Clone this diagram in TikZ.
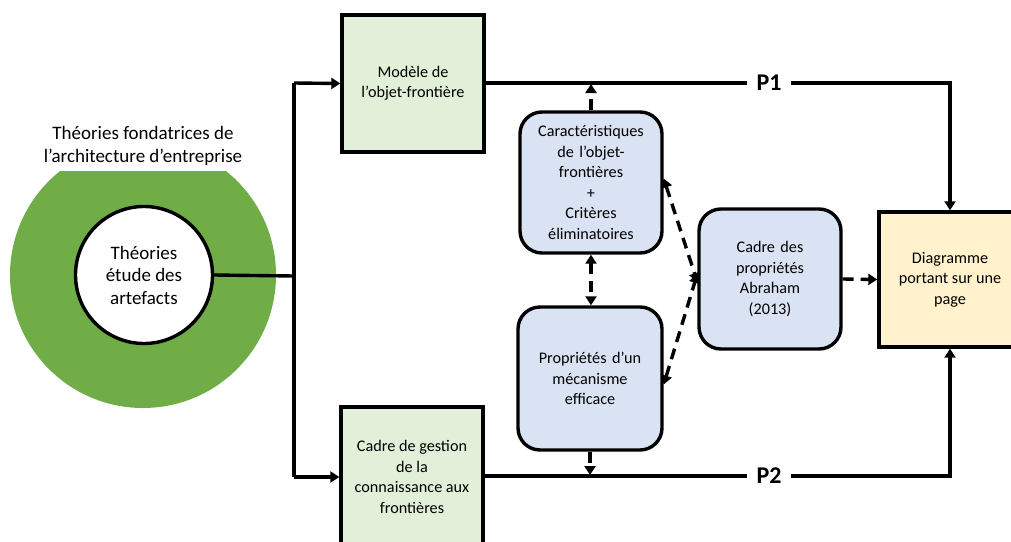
\documentclass[tikz,border=0pt]{standalone}
\usepackage{fontspec}
\setmainfont{Carlito}
\usetikzlibrary{arrows.meta}

\definecolor{ringgreen}{HTML}{70AD47}
\definecolor{boxgreen}{HTML}{E2F0D9}
\definecolor{boxblue}{HTML}{DAE3F3}
\definecolor{boxyellow}{HTML}{FFF2CC}

\tikzset{
  every node/.style={font=\fontsize{16.2}{20.5}\selectfont, align=center},
  tip/.style={-{Triangle[width=11pt,length=9pt]}},
  twotip/.style={{Triangle[width=11pt,length=9pt]}-{Triangle[width=11pt,length=9pt]}},
  flow/.style={line width=3.4pt, tip},
  link/.style={line width=3.4pt},
  dashflow/.style={line width=3.4pt, dash pattern=on 11pt off 7pt},
  squarebox/.style={draw, line width=3.4pt, minimum width=142pt, inner sep=0pt},
  roundbox/.style={draw, line width=3.4pt, fill=boxblue, rounded corners=22pt, inner sep=0pt, text width=140pt},
  plabel/.style={font=\fontsize{24}{26}\selectfont\bfseries, fill=white, inner xsep=10pt},
}

\begin{document}
\begin{tikzpicture}[x=1pt, y=-1pt]
  \useasboundingbox (0,0) rectangle (1011,541);
  \clip (0,0) rectangle (1011,541);

  % theory rings
  \fill[ringgreen] (143,275) circle (133);
  \node[fill=white, inner sep=0pt, minimum width=200pt, minimum height=50pt,
        font=\fontsize{19}{22.5}\selectfont] (title) at (143,146)
        {Théories fondatrices de\\l’architecture d’entreprise};
  \node[circle, draw, line width=3.4pt, fill=white, minimum size=137pt, inner sep=0pt,
        font=\fontsize{19}{22.5}\selectfont] (core) at (144,275)
        {Théories\\étude des\\artefacts};

  % model boxes
  \node[squarebox, fill=boxgreen, minimum height=137pt] (model) at (413,83.5)
        {Modèle de\\l’objet-frontière};
  \node[squarebox, fill=boxgreen, minimum height=140pt] (gestion) at (412,477)
        {Cadre de gestion\\de la\\connaissance aux\\frontières};

  % property boxes
  \node[roundbox, minimum width=142pt, minimum height=141pt] (carac) at (591,182.5)
        {Caractéristiques\\de l’objet-\\frontières\\+\\Critères\\éliminatoires};
  \node[roundbox, minimum width=144pt, minimum height=143pt] (meca) at (590,378.5)
        {Propriétés d’un\\mécanisme\\efficace};
  \node[roundbox, minimum width=142pt, minimum height=140pt] (abraham) at (770,279)
        {Cadre des\\propriétés\\Abraham\\(2013)};

  % result box
  \node[squarebox, fill=boxyellow, minimum width=142pt, minimum height=135pt] (diag) at (950,279.5)
        {Diagramme\\portant sur une\\page};

  % solid connectors
  \coordinate (split) at (294,276);
  \coordinate (topbend) at (294,83);
  \coordinate (botbend) at (294,477);
  \draw[link] (core.east) -- (split);
  \draw[link] (topbend) -- (botbend);
  \draw[flow] (topbend) -- (model.west);
  \draw[flow] (botbend) -- (gestion.west);

  \coordinate (p1end) at (950,83);
  \coordinate (p2end) at (950,476);
  \draw[flow] (model.east |- p1end) -- (p1end) -- (diag.north);
  \draw[flow] (gestion.east |- p2end) -- (p2end) -- (diag.south);
  \node[plabel] (p1) at (769,83) {P1};
  \node[plabel] (p2) at (769,476) {P2};

  % dashed connectors
  \coordinate (caracup) at (591,84);
  \coordinate (mecadown) at (590,475);
  \draw[dashflow, tip] (carac.north) -- (caracup);
  \draw[dashflow, tip] (meca.south) -- (mecadown);
  \draw[dashflow, twotip] (carac.south) -- (carac.south |- meca.north);
  \draw[dashflow, twotip] ([yshift=4pt]carac.east) -- ([yshift=-3pt]abraham.west);
  \draw[dashflow, twotip] ([yshift=-6pt]meca.east) -- ([yshift=5pt]abraham.west);
  \draw[dashflow, tip] (abraham.east) -- (diag.west);
\end{tikzpicture}
\end{document}
